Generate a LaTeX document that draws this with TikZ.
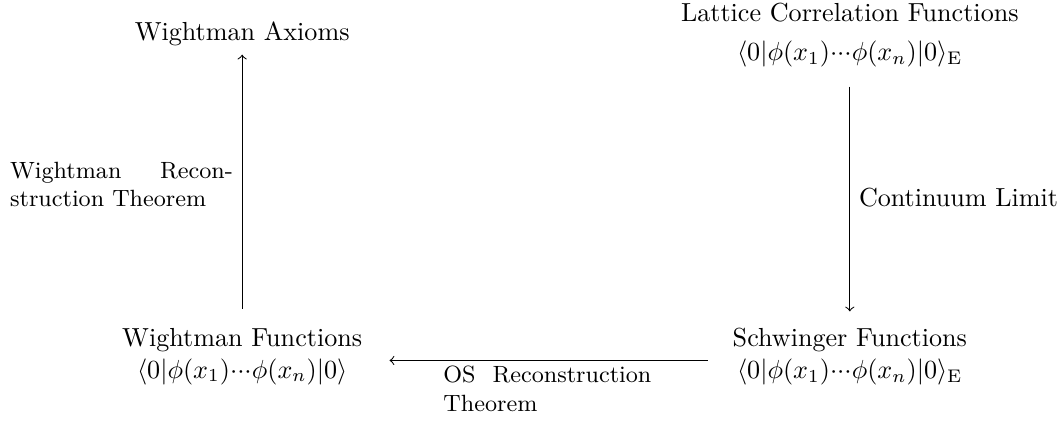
\documentclass[tikz,border=0pt]{standalone}
\usepackage{amsmath}
\usetikzlibrary{positioning}

\newcommand{\vevn}{\langle 0|\phi(x_1){\cdot}{\cdot}{\cdot}\phi(x_n)|0\rangle}

\begin{document}
\begin{tikzpicture}[
    obj/.style={align=center},
    thm-lbl/.style={text width=#1, align=justify, font=\small}
  ]
  \useasboundingbox (0,0) rectangle (14.31,-5.72);

  \node[obj] (wa) at (3.26,-0.45) {Wightman Axioms};
  \node[obj] (lcf) at (11.44,-0.47) {Lattice Correlation Functions\\[3pt]
    $\vevn_{\mathrm{E}}$};

  \node[obj] (wf) at (3.26,-4.8) {Wightman Functions\\ $\vevn$};
  \node[obj] (sf) at (11.44,-4.8) {Schwinger Functions\\ $\vevn_{\mathrm{E}}$};

  \draw[->, shorten <=4pt] (wf) -- node[left, yshift=1pt, thm-lbl=3cm] {Wightman Recon\-struction Theorem} (wa);
  \draw[->, shorten <=4pt, shorten >=3pt] (lcf) -- node[right] {Continuum Limit} (sf);
  \draw[->, shorten <=6pt, shorten >=7pt] ([yshift=-1.5pt]sf.west) -- node[below, yshift=1.5pt, thm-lbl=2.8cm] {OS Reconstruction Theorem} ([yshift=-1.5pt]wf.east);

\end{tikzpicture}
\end{document}
